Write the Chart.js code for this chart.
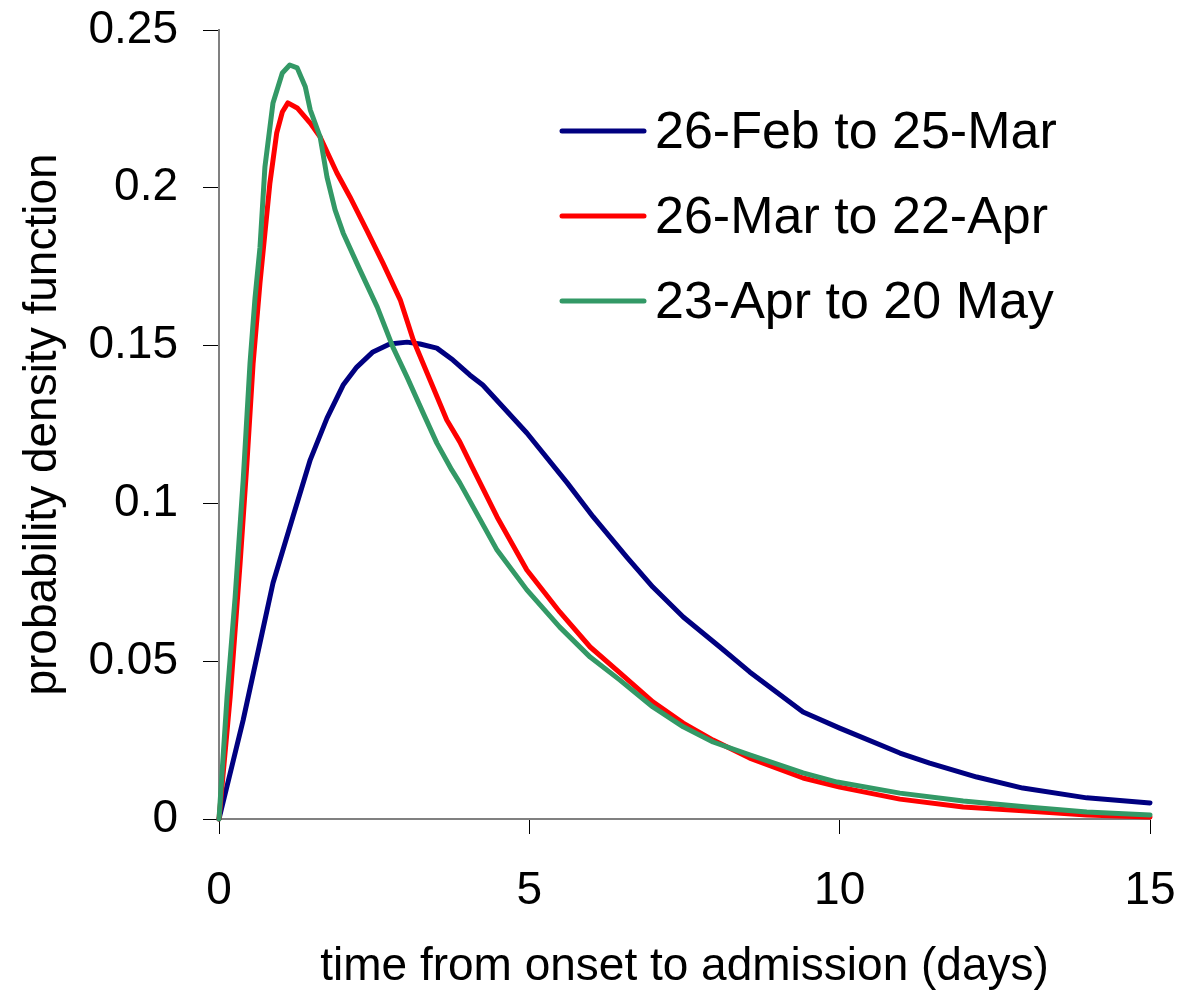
<!DOCTYPE html>
<html>
<head>
<meta charset="utf-8">
<title>Onset to admission</title>
<script src="https://cdn.jsdelivr.net/npm/chart.js@4.4.1/dist/chart.umd.min.js"></script>
<style>
  html, body { margin: 0; padding: 0; background: #fff; }
  #wrap { width: 1180px; height: 990px; }
</style>
</head>
<body>
<div id="wrap"><canvas id="pdfChart" width="1180" height="990"></canvas></div>
<script>
// fitted densities, one per 4-week period
const seriesNames = ['26-Feb to 25-Mar', '26-Mar to 22-Apr', '23-Apr to 20 May'];
const seriesColors = ['#000080', '#ff0000', '#339966'];

const febDays = [0, 0.39, 0.66, 0.87, 1.19, 1.47, 1.74, 2.0, 2.22, 2.48, 2.75, 3.03, 3.24, 3.51, 3.77, 4.04, 4.25,
  4.96, 5.61, 6.03, 6.57, 6.99, 7.48, 8.07, 8.55, 9.41, 10.0, 10.97, 11.45, 12.21, 12.95, 13.98, 15];
const febPdf = [0, 0.0314, 0.0558, 0.0748, 0.0957, 0.1138, 0.127, 0.1375, 0.1432, 0.148, 0.1505, 0.1511, 0.1505,
  0.1492, 0.1454, 0.1407, 0.1375, 0.1223, 0.1065, 0.0957, 0.083, 0.0735, 0.064, 0.0545, 0.0466, 0.0339, 0.0288,
  0.0209, 0.0177, 0.0133, 0.0098, 0.0067, 0.0051];

const marDays = [0, 0.18, 0.34, 0.45, 0.55, 0.66, 0.74, 0.82, 0.93, 1.02, 1.11, 1.26, 1.47, 1.63, 1.9, 2.11, 2.38,
  2.64, 2.92, 3.13, 3.4, 3.67, 3.88, 4.08, 4.48, 4.96, 5.49, 5.98, 6.46, 6.99, 7.48, 7.96, 8.55, 9.41, 10, 10.97,
  11.99, 13.02, 13.98, 15];
const marPdf = [0, 0.0387, 0.0811, 0.1128, 0.1445, 0.1698, 0.1857, 0.2015, 0.2174, 0.224, 0.2269, 0.2253, 0.2205,
  0.2161, 0.2047, 0.1971, 0.1866, 0.1762, 0.1645, 0.1518, 0.1391, 0.1264, 0.1195, 0.1115, 0.0957, 0.0789, 0.0656,
  0.0545, 0.0463, 0.0371, 0.0304, 0.025, 0.0193, 0.013, 0.0101, 0.0063, 0.0038, 0.0025, 0.0013, 0.0006];

const aprDays = [0, 0.13, 0.26, 0.39, 0.5, 0.58, 0.66, 0.74, 0.87, 1.02, 1.14, 1.26, 1.39, 1.47, 1.63, 1.74, 1.87,
  2.0, 2.27, 2.55, 2.8, 3.03, 3.29, 3.51, 3.75, 3.88, 4.48, 4.96, 5.49, 5.98, 6.46, 6.99, 7.48, 7.96, 8.55, 9.41,
  9.96, 10.97, 11.99, 13.02, 13.98, 15];
const aprPdf = [0, 0.0387, 0.0703, 0.1074, 0.1445, 0.165, 0.181, 0.2066, 0.2269, 0.2364, 0.2389, 0.238, 0.232,
  0.2247, 0.2161, 0.2034, 0.193, 0.1857, 0.174, 0.1622, 0.1496, 0.14, 0.1286, 0.1191, 0.1106, 0.1065, 0.0852,
  0.0726, 0.0608, 0.0513, 0.044, 0.0355, 0.0292, 0.0244, 0.0203, 0.0146, 0.0117, 0.0082, 0.0057, 0.0038, 0.0022,
  0.0013];

const xTicks = [0, 5, 10, 15];
const yTicks = [0, 0.05, 0.1, 0.15, 0.2, 0.25];

const FONT = '"Liberation Sans", Arial, sans-serif';

function toPoints(xs, ys) {
  return xs.map((x, i) => ({ x: x, y: ys[i] }));
}

// legend drawn inside the plot, line swatch + label
const lineLegend = {
  id: 'lineLegend',
  afterDatasetsDraw(chart, args, opts) {
    const ctx = chart.ctx;
    const area = chart.chartArea;
    ctx.save();
    ctx.font = opts.size + 'px ' + FONT;
    ctx.textBaseline = 'alphabetic';
    ctx.textAlign = 'left';
    chart.data.datasets.forEach((ds, i) => {
      const base = area.top + opts.top + i * opts.rowGap;
      const x = area.left + opts.left;
      const y = base - opts.lineRaise;
      ctx.strokeStyle = ds.borderColor;
      ctx.lineWidth = ds.borderWidth;
      ctx.lineCap = 'round';
      ctx.beginPath();
      ctx.moveTo(x, y);
      ctx.lineTo(x + opts.lineLen, y);
      ctx.stroke();
      ctx.fillStyle = '#000';
      ctx.fillText(ds.label, x + opts.lineLen + opts.gap, base);
    });
    ctx.restore();
  }
};

const datasets = [
  [febDays, febPdf],
  [marDays, marPdf],
  [aprDays, aprPdf]
].map((s, i) => ({
  label: seriesNames[i],
  data: toPoints(s[0], s[1]),
  borderColor: seriesColors[i],
  backgroundColor: seriesColors[i],
  borderWidth: 5,
  pointRadius: 0,
  tension: 0,
  borderJoinStyle: 'round',
  borderCapStyle: 'round',
  clip: false,
  order: 3 - i
}));

const ctx = document.getElementById('pdfChart').getContext('2d');
const pdfChart = new Chart(ctx, {
  type: 'line',
  data: { datasets: datasets },
  options: {
    responsive: false,
    animation: false,
    devicePixelRatio: 1,
    layout: { padding: { top: 30, right: 30, left: 0, bottom: 0 } },
    plugins: {
      legend: { display: false },
      tooltip: { enabled: false },
      lineLegend: { top: 118, left: 343, rowGap: 85, lineLen: 82, gap: 11, size: 52, lineRaise: 17 }
    },
    scales: {
      x: {
        type: 'linear',
        min: 0,
        max: 15,
        afterBuildTicks(scale) { scale.ticks = xTicks.map(v => ({ value: v })); },
        afterFit(scale) {
          scale.height = 171;
          scale.paddingLeft = 0;
          scale.paddingRight = 0;
        },
        border: { display: true, color: '#808080', width: 2 },
        grid: { drawOnChartArea: false, drawTicks: true, tickLength: 15, color: '#000', lineWidth: 1 },
        ticks: { color: '#000', padding: 30, maxRotation: 0, font: { family: FONT, size: 46 } },
        title: {
          display: true,
          text: 'time from onset to admission (days)',
          color: '#000',
          font: { family: FONT, size: 46, lineHeight: 1 },
          padding: { top: 0, bottom: 0 }
        }
      },
      y: {
        min: 0,
        max: 0.25,
        afterBuildTicks(scale) { scale.ticks = yTicks.map(v => ({ value: v })); },
        afterFit(scale) {
          scale.width = 219;
          scale.paddingTop = 0;
          scale.paddingBottom = 0;
        },
        border: { display: true, color: '#808080', width: 2 },
        grid: { drawOnChartArea: false, drawTicks: true, tickLength: 16, color: '#000', lineWidth: 1 },
        ticks: {
          color: '#000',
          padding: 25,
          font: { family: FONT, size: 46 },
          callback: v => String(v)
        },
        title: {
          display: true,
          text: 'probability density function',
          color: '#000',
          font: { family: FONT, size: 46, lineHeight: 1 },
          padding: { top: 20, bottom: 0 }
        }
      }
    }
  },
  plugins: [lineLegend]
});
</script>
</body>
</html>
